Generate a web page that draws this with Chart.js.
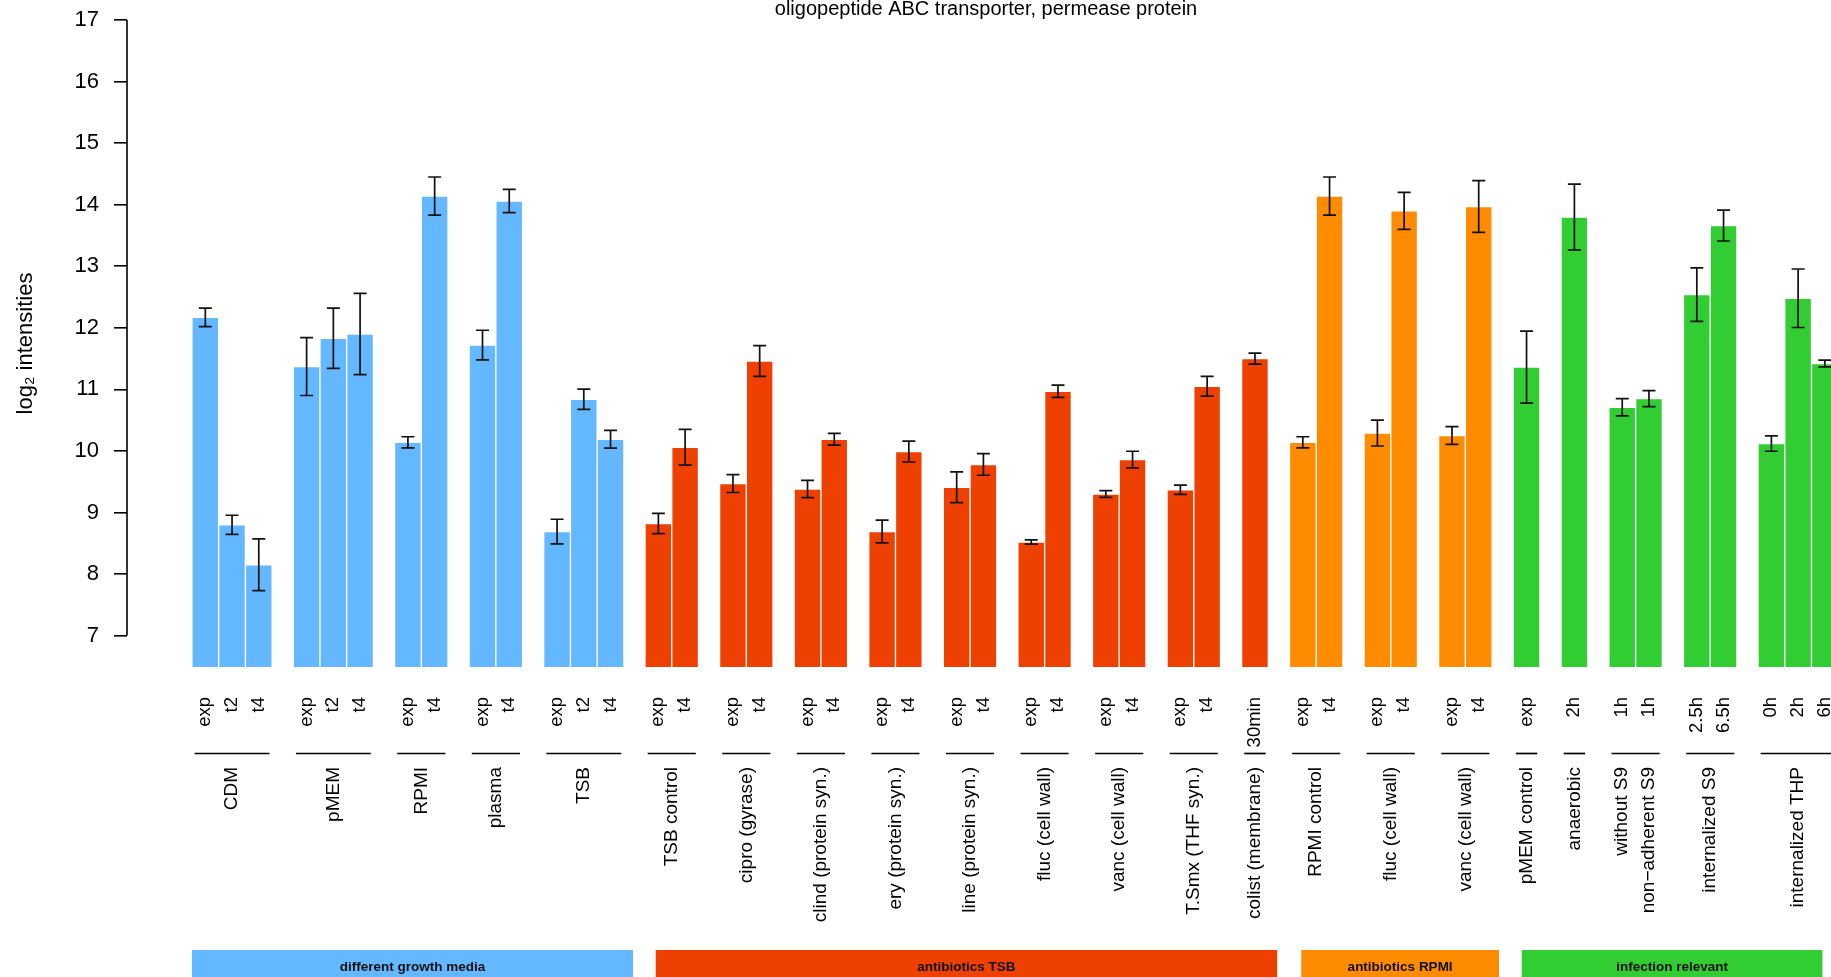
<!DOCTYPE html>
<html>
<head>
<meta charset="utf-8">
<script src="https://cdn.jsdelivr.net/npm/chart.js@4.4.1/dist/chart.umd.min.js"></script>
<style>
html,body{margin:0;padding:0;background:#fff;overflow:hidden}
#c{display:block}
</style>
</head>
<body>
<canvas id="c" width="1831" height="977"></canvas>
<script>
// ---------------- data ----------------
const chartTitle = "oligopeptide ABC transporter, permease protein";
const yAxisTitle = "log\u2082 intensities";
const yTicks = [7, 8, 9, 10, 11, 12, 13, 14, 15, 16, 17];

const categoryNames = ["different growth media", "antibiotics TSB", "antibiotics RPMI", "infection relevant"];
const categoryColors = ["#63B8FF", "#EE4000", "#FF8C00", "#32CD32"];

const groupNames = [
  "CDM", "pMEM", "RPMI", "plasma", "TSB",
  "TSB control", "cipro (gyrase)", "clind (protein syn.)", "ery (protein syn.)",
  "line (protein syn.)", "fluc (cell wall)", "vanc (cell wall)", "T.Smx (THF syn.)", "colist (membrane)",
  "RPMI control", "fluc (cell wall)", "vanc (cell wall)",
  "pMEM control", "anaerobic", "without S9\nnon\u2212adherent S9", "internalized S9", "internalized THP"
];
const groupCategory = [0,0,0,0,0, 1,1,1,1,1,1,1,1,1, 2,2,2, 3,3,3,3,3];
const groupSizes    = [3,3,2,2,3, 2,2,2,2,2,2,2,2,1, 2,2,2, 1,1,2,2,3];

const barLabels = [
  "exp","t2","t4", "exp","t2","t4", "exp","t4", "exp","t4", "exp","t2","t4",
  "exp","t4", "exp","t4", "exp","t4", "exp","t4", "exp","t4", "exp","t4", "exp","t4", "exp","t4", "30min",
  "exp","t4", "exp","t4", "exp","t4",
  "exp", "2h", "1h","1h", "2.5h","6.5h", "0h","2h","6h"
];
const barValues = [
  12.17, 8.80, 8.15,   11.37, 11.83, 11.90,   10.14, 14.14,   11.72, 14.06,   8.69, 10.84, 10.19,
  8.82, 10.06,   9.47, 11.46,   9.38, 10.19,   8.69, 9.99,   9.41, 9.78,   8.52, 10.97,   9.30, 9.86,   9.37, 11.05,   11.50,
  10.14, 14.14,   10.29, 13.90,   10.25, 13.97,
  11.36,   13.80,   10.71, 10.85,   12.54, 13.66,   10.12, 12.48, 11.42
];
const barErrors = [
  0.15, 0.155, 0.42,   0.47, 0.49, 0.66,   0.09, 0.31,   0.24, 0.19,   0.20, 0.165, 0.145,
  0.165, 0.29,   0.145, 0.25,   0.14, 0.095,   0.185, 0.17,   0.25, 0.175,   0.035, 0.10,   0.055, 0.135,   0.075, 0.16,   0.09,
  0.09, 0.31,   0.21, 0.30,   0.145, 0.42,
  0.585,   0.535,   0.14, 0.13,   0.435, 0.25,   0.125, 0.475, 0.055
];

// ---------------- layout (positions / sizes / styles) ----------------
const GROUP_SPACE = 0.79;          // space between groups, in bar widths
const X_MIN = -2.43, X_MAX = 61.32;  // x range in bar units
const Y_MIN = 6.49, Y_MAX = 17;
const legendSpans = [[0, 16.5], [17.35, 40.6], [41.5, 48.9], [49.75, 61.0]];
const FONT = "'Liberation Sans', Arial, Helvetica, sans-serif";

// bar positions (bar units) built from the group structure
const barX = [], barGroup = [];
(function () {
  let pos = 0;
  groupSizes.forEach((n, g) => {
    if (g > 0) pos += GROUP_SPACE;
    for (let k = 0; k < n; k++) { barX.push(pos + 0.5); barGroup.push(g); pos += 1; }
  });
})();

const rDecor = {
  id: 'rDecor',
  afterDatasetsDraw(chart) {
    const ctx = chart.ctx, ys = chart.scales.y;
    const meta = chart.getDatasetMeta(0);
    ctx.save();
    ctx.strokeStyle = '#111';
    ctx.lineWidth = 1.7;
    meta.data.forEach((el, i) => {
      const x = el.x;
      const yh = ys.getPixelForValue(barValues[i] + barErrors[i]);
      const yl = ys.getPixelForValue(barValues[i] - barErrors[i]);
      ctx.beginPath();
      ctx.moveTo(x, yh); ctx.lineTo(x, yl);
      ctx.moveTo(x - 6.5, yh); ctx.lineTo(x + 6.5, yh);
      ctx.moveTo(x - 6.5, yl); ctx.lineTo(x + 6.5, yl);
      ctx.stroke();
    });
    ctx.restore();
  },
  afterDraw(chart) {
    const ctx = chart.ctx, xs = chart.scales.x, ys = chart.scales.y, area = chart.chartArea;
    ctx.save();
    // y axis line (only across the tick range, as in R)
    ctx.strokeStyle = '#000';
    ctx.lineWidth = 1.6;
    ctx.beginPath();
    ctx.moveTo(area.left, ys.getPixelForValue(yTicks[0]));
    ctx.lineTo(area.left, ys.getPixelForValue(yTicks[yTicks.length - 1]));
    ctx.stroke();

    // title
    ctx.fillStyle = '#000';
    ctx.font = "20px " + FONT;
    ctx.textAlign = 'center';
    ctx.textBaseline = 'middle';
    ctx.fillText(chartTitle, 986, 9);

    // group lines and group labels
    let idx = 0;
    ctx.font = "19px " + FONT;
    groupSizes.forEach((n, g) => {
      const xa = xs.getPixelForValue(barX[idx]);
      const xb = xs.getPixelForValue(barX[idx + n - 1]);
      const half = (xs.getPixelForValue(1) - xs.getPixelForValue(0)) * 0.4;
      ctx.strokeStyle = '#000';
      ctx.lineWidth = 1.7;
      ctx.beginPath();
      ctx.moveTo(xa - half, 753.5);
      ctx.lineTo(xb + half, 753.5);
      ctx.stroke();
      const cx = (xa + xb) / 2;
      const lines = groupNames[g].split('\n');
      lines.forEach((t, k) => {
        ctx.save();
        ctx.translate(cx + (k - (lines.length - 1) / 2) * 26.7, 767);
        ctx.rotate(-Math.PI / 2);
        ctx.textAlign = 'right';
        ctx.textBaseline = 'middle';
        ctx.fillText(t, 0, 0);
        ctx.restore();
      });
      idx += n;
    });

    // category boxes at the bottom
    legendSpans.forEach((sp, c) => {
      const x1 = xs.getPixelForValue(sp[0]);
      const x2 = xs.getPixelForValue(sp[1]);
      ctx.fillStyle = categoryColors[c];
      ctx.fillRect(x1, 950, x2 - x1, 30);
      ctx.fillStyle = '#111';
      ctx.font = "bold 13.5px " + FONT;
      ctx.textAlign = 'center';
      ctx.textBaseline = 'middle';
      ctx.fillText(categoryNames[c], (x1 + x2) / 2, 967);
    });
    ctx.restore();
  }
};

const chart = new Chart(document.getElementById('c'), {
  type: 'bar',
  data: {
    datasets: [{
      data: barValues.map((v, i) => ({ x: barX[i], y: v })),
      backgroundColor: barValues.map((v, i) => categoryColors[groupCategory[barGroup[i]]]),
      borderColor: 'rgba(255,255,255,0.6)',
      borderWidth: 1,
      borderSkipped: false,
      barPercentage: 1,
      categoryPercentage: 1
    }]
  },
  options: {
    responsive: false,
    devicePixelRatio: 1,
    animation: false,
    layout: { padding: { top: 20, right: 0, bottom: 210, left: 0 } },
    plugins: { legend: { display: false }, tooltip: { enabled: false }, title: { display: false } },
    scales: {
      x: {
        type: 'linear',
        min: X_MIN, max: X_MAX,
        offset: false,
        grid: { display: false, drawTicks: false },
        border: { display: false },
        ticks: {
          autoSkip: false, minRotation: 90, maxRotation: 90, padding: 30,
          color: '#000', font: { family: FONT, size: 18.5 },
          callback: (v, i) => barLabels[i]
        },
        afterBuildTicks: s => { s.ticks = barX.map(v => ({ value: v })); },
        afterFit: s => { s.height = 100; s.paddingLeft = 0; s.paddingRight = 0; }
      },
      y: {
        type: 'linear',
        min: Y_MIN, max: Y_MAX,
        afterBuildTicks: s => { s.ticks = yTicks.map(v => ({ value: v })); },
        ticks: { color: '#000', padding: 15, font: { family: FONT, size: 22 } },
        grid: { display: true, drawOnChartArea: false, drawTicks: true, tickLength: 13, color: '#000', lineWidth: 1.6 },
        border: { display: false },
        title: { display: true, text: yAxisTitle, color: '#000', font: { family: FONT, size: 22 }, padding: { top: 13, bottom: 0 } },
        afterFit: s => { s.width = 127; s.paddingTop = 0; s.paddingBottom = 0; }
      }
    }
  },
  plugins: [rDecor]
});
</script>
</body>
</html>
